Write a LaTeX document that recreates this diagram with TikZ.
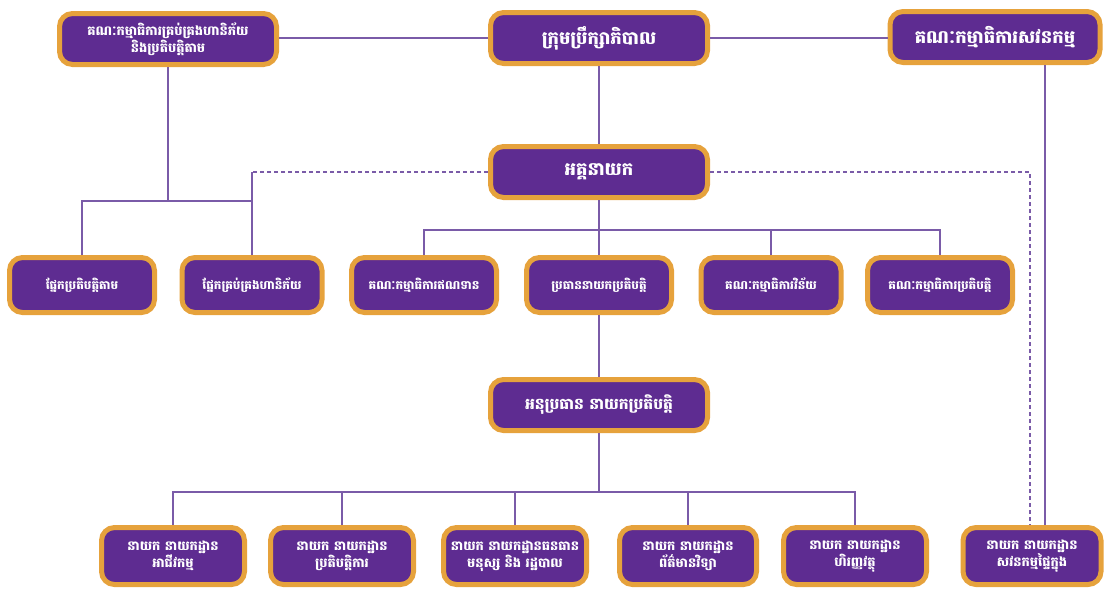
\documentclass[tikz,border=0pt]{standalone}
\usepackage{fontspec}
\newfontfamily\khmer[Script=Khmer]{Battambang}
\definecolor{boxpurple}{HTML}{5E2C91}
\definecolor{boxorange}{HTML}{E6A23C}
\definecolor{linepurple}{HTML}{7A5BA8}
\tikzset{
  orgbox/.style={draw=boxorange, line width=5pt, fill=boxpurple, rounded corners=13pt,
    text=white, align=center, inner sep=1pt,
    font=\khmer\bfseries\fontsize{12}{17}\selectfont},
  bigbox/.style={orgbox, minimum width=217pt, minimum height=51pt,
    font=\khmer\bfseries\fontsize{18}{22}\selectfont},
  midbox/.style={orgbox, minimum width=145pt, minimum height=55pt},
  lowbox/.style={orgbox, minimum width=143pt, minimum height=57pt,
    font=\khmer\bfseries\fontsize{13}{17}\selectfont},
  conn/.style={draw=linepurple, line width=1.2pt},
  dconn/.style={conn, dashed, dash pattern=on 4pt off 3pt}
}
\begin{document}
\begin{tikzpicture}[x=1pt,y=-1pt]
\useasboundingbox (0,0) rectangle (1107,589);
% helper coordinates
\coordinate (lbus) at (0,201);
\coordinate (cbus) at (0,230);
\coordinate (bbus) at (0,492);
\coordinate (dx) at (1030,0);
\coordinate (sx) at (1045,0);
% top row
\node[bigbox, font=\khmer\bfseries\fontsize{13}{17}\selectfont] (rmc) at (168,39) {គណៈកម្មាធិការគ្រប់គ្រងហានិភ័យ\\និងប្រតិបត្តិតាម};
\node[bigbox] (board) at (599,38) {ក្រុមប្រឹក្សាភិបាល};
\node[bigbox, minimum width=210pt] (audit) at (995,37) {គណៈកម្មាធិការសវនកម្ម};
% CEO
\node[bigbox] (ceo) at (599,172) {អគ្គនាយក};
% row 3
\node[midbox] (comp) at (82,285) {ផ្នែកប្រតិបត្តិតាម};
\node[midbox, minimum width=140pt] (risk) at (252,285) {ផ្នែកគ្រប់គ្រងហានិភ័យ};
\node[midbox] (credit) at (424,285) {គណៈកម្មាធិការឥណទាន};
\node[midbox] (chief) at (599,285) {ប្រធាននាយកប្រតិបត្តិ};
\node[midbox, minimum width=140pt] (disc) at (771,285) {គណៈកម្មាធិការវិន័យ};
\node[midbox] (execc) at (940,285) {គណៈកម្មាធិការប្រតិបត្តិ};
% deputy
\node[bigbox, font=\khmer\bfseries\fontsize{15.5}{20}\selectfont] (dep) at (599,405) {អនុប្រធាន នាយកប្រតិបត្តិ};
% bottom row
\node[lowbox] (b1) at (173,556) {នាយក នាយកដ្ឋាន\\អាជីវកម្ម};
\node[lowbox] (b2) at (342,556) {នាយក នាយកដ្ឋាន\\ប្រតិបត្តិការ};
\node[lowbox] (b3) at (515,556) {នាយក នាយកដ្ឋានធនធាន\\មនុស្ស និង រដ្ឋបាល};
\node[lowbox, minimum width=137pt] (b4) at (688,556) {នាយក នាយកដ្ឋាន\\ព័ត៌មានវិទ្យា};
\node[lowbox] (b5) at (855,556) {នាយក នាយកដ្ឋាន\\ហិរញ្ញវត្ថុ};
\node[lowbox, minimum width=138pt] (b6) at (1032,556) {នាយក នាយកដ្ឋាន\\សវនកម្មផ្ទៃក្នុង};
% connectors
\draw[conn] (board.west) -- (board.west -| rmc.east);
\draw[conn] (board.east) -- (board.east -| audit.west);
\draw[conn] (board.south) -- (ceo.north);
\draw[conn] (rmc.south) -- (rmc.south |- lbus);
\draw[conn] (comp.north) -- (comp.north |- lbus) -- (risk.north |- lbus);
\draw[conn] (risk.north) -- (risk.north |- ceo.west);
\draw[dconn] (ceo.west) -- (ceo.west -| risk.north);
\draw[conn] (ceo.south) -- (ceo.south |- cbus);
\draw[conn] (credit.north) -- (credit.north |- cbus) -- (execc.north |- cbus) -- (execc.north);
\draw[conn] (chief.north) -- (chief.north |- cbus);
\draw[conn] (disc.north) -- (disc.north |- cbus);
\draw[conn] (chief.south) -- (dep.north);
\draw[conn] (dep.south) -- (dep.south |- bbus);
\draw[conn] (b1.north) -- (b1.north |- bbus) -- (b5.north |- bbus) -- (b5.north);
\draw[conn] (b2.north) -- (b2.north |- bbus);
\draw[conn] (b3.north) -- (b3.north |- bbus);
\draw[conn] (b4.north) -- (b4.north |- bbus);
\draw[dconn] (ceo.east) -- (ceo.east -| dx) -- (b6.north -| dx);
\draw[conn] (audit.south -| sx) -- (b6.north -| sx);
\end{tikzpicture}
\end{document}
